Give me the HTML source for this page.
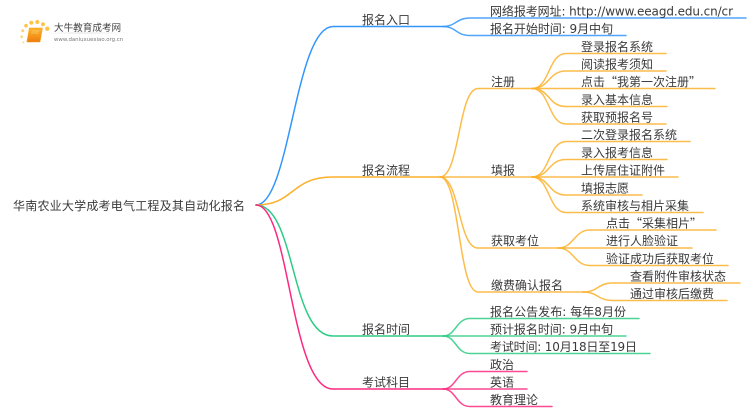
<!DOCTYPE html>
<html><head><meta charset="utf-8">
<style>
html,body{margin:0;padding:0;background:#fff;width:750px;height:410px;overflow:hidden}
svg{display:block;filter:blur(.3px)}
text{font-family:"DejaVu Sans","Noto Sans CJK SC",sans-serif;font-size:12px;fill:#3a3a3a}
tspan{font-family:"Noto Sans CJK SC",sans-serif}
path{fill:none;stroke-linecap:round}
.b{stroke:#3296fa}.o{stroke:#fbb02a}.g{stroke:#2ecb85}.p{stroke:#fb2a80}
.m{stroke-width:1.5}
.l{stroke-width:1.5;stroke-opacity:.85}
</style></head><body>
<svg width="750" height="410" viewBox="0 0 750 410" xmlns="http://www.w3.org/2000/svg">
<defs>
<linearGradient id="bk" x1="0" y1="0" x2="0" y2="1"><stop offset="0" stop-color="#fcb62a"/><stop offset="1" stop-color="#ee7d0e"/></linearGradient>
<linearGradient id="gl" x1="0" y1="0" x2="1" y2="0"><stop offset="0" stop-color="#ddd" stop-opacity="0"/><stop offset=".4" stop-color="#ddd"/><stop offset="1" stop-color="#ddd" stop-opacity="0"/></linearGradient>
</defs>
<!-- logo -->
<g fill="#fcc54a">
<circle cx="23.300" cy="42.300" r="1" opacity=".6"/><circle cx="21.700" cy="36.700" r="1.300" opacity=".7"/><circle cx="22.700" cy="30.700" r="1.500" opacity=".8"/><circle cx="26" cy="25.700" r="1.800"/><circle cx="31.300" cy="22.700" r="2"/><circle cx="37.300" cy="22" r="2"/><circle cx="43" cy="24.300" r="2"/><circle cx="47.300" cy="28.700" r="2.200"/>
</g>
<path d="M29.500 28H42.500L40 42H27Z" style="fill:url(#bk);stroke:#f09a1a;stroke-width:.5"/>
<path d="M32 31H39M31.500 33H38" style="stroke:#fde0a0;stroke-width:.5"/>
<rect x="46" y="32.500" width="86" height="1" style="fill:url(#gl)"/>
<text x="54" y="31" style="font-size:9.600px;fill:#444">大牛教育成考网</text>
<text x="54" y="41" style="font-size:5.400px;fill:#777">www.daniuxuexiao.org.cn</text>

<!-- main branches -->
<path class="b m" d="M256 205C290 205 295 26.500 333 26.500H443"/>
<path class="o m" d="M256 205C295 205 290 177 333 177H440"/>
<path class="g m" d="M256 205C296 205 290 336 333 336H443"/>
<path class="p m" d="M256 205C290 205 290 389 333 389H443"/>

<!-- blue children -->
<path class="b l" d="M443 26.500C456 26.500 456 18 470 18H746"/>
<path class="b l" d="M443 26.500C456 26.500 456 35.500 470 35.500H626"/>

<!-- orange level 2 -->
<path class="o l" d="M440 177C460 177 458 88.500 478 88.500H532"/>
<path class="o l" d="M440 177H532"/>
<path class="o l" d="M440 177C460 177 458 248 478 248H558"/>
<path class="o l" d="M440 177C460 177 458 292 478 292H583"/>

<!-- 注册 -->
<path class="o l" d="M532 88.500C550 88.500 548 53.500 566 53.500H666"/>
<path class="o l" d="M532 88.500C550 88.500 548 71 566 71H666"/>
<path class="o l" d="M532 88.500H715"/>
<path class="o l" d="M532 88.500C550 88.500 548 106.500 566 106.500H667"/>
<path class="o l" d="M532 88.500C550 88.500 548 124 566 124H666"/>
<!-- 填报 -->
<path class="o l" d="M532 177C550 177 548 141.500 566 141.500H690"/>
<path class="o l" d="M532 177C550 177 548 159.500 566 159.500H667"/>
<path class="o l" d="M532 177H678"/>
<path class="o l" d="M532 177C550 177 548 195 566 195H642"/>
<path class="o l" d="M532 177C550 177 548 212.500 566 212.500H703"/>
<!-- 获取考位 -->
<path class="o l" d="M558 248C574 248 574 230 590 230H716"/>
<path class="o l" d="M558 248H692"/>
<path class="o l" d="M558 248C574 248 574 265.500 590 265.500H728"/>
<!-- 缴费 -->
<path class="o l" d="M583 292C598 292 598 283 612 283H740"/>
<path class="o l" d="M583 292C598 292 598 300.500 612 300.500H727"/>

<!-- green children -->
<path class="g l" d="M443 336C456 336 456 318.500 470 318.500H639"/>
<path class="g l" d="M443 336H626"/>
<path class="g l" d="M443 336C456 336 456 353.500 470 353.500H650"/>
<!-- pink children -->
<path class="p l" d="M443 389C456 389 456 371.500 470 371.500H527"/>
<path class="p l" d="M443 389H527"/>
<path class="p l" d="M443 389C456 389 456 406.500 470 406.500H552"/>

<!-- labels -->
<text x="13" y="210" textLength="232">华南农业大学成考电气工程及其自动化报名</text>
<text x="362" y="24">报名入口</text>
<text x="362" y="174.500">报名流程</text>
<text x="362" y="333.500">报名时间</text>
<text x="362" y="386.500">考试科目</text>

<text x="490" y="15.500" textLength="243">网络报考网址: http://www.eeagd.edu.cn/cr</text>
<text x="490" y="33" textLength="123">报名开始时间: 9月中旬</text>

<text x="491" y="86">注册</text>
<text x="491" y="174.500">填报</text>
<text x="491" y="245">获取考位</text>
<text x="491" y="289.500">缴费确认报名</text>

<text x="581" y="51">登录报名系统</text>
<text x="581" y="68.500">阅读报考须知</text>
<text x="581" y="86"><tspan>点击“我第一次注册”</tspan></text>
<text x="581" y="104">录入基本信息</text>
<text x="581" y="121.500">获取预报名号</text>

<text x="581" y="139">二次登录报名系统</text>
<text x="581" y="157">录入报考信息</text>
<text x="581" y="174.500">上传居住证附件</text>
<text x="581" y="192.500">填报志愿</text>
<text x="581" y="210">系统审核与相片采集</text>

<text x="606" y="227.500"><tspan>点击“采集相片”</tspan></text>
<text x="606" y="245">进行人脸验证</text>
<text x="606" y="263">验证成功后获取考位</text>

<text x="630" y="280.500">查看附件审核状态</text>
<text x="630" y="298">通过审核后缴费</text>

<text x="490" y="316" textLength="136">报名公告发布: 每年8月份</text>
<text x="490" y="333.500" textLength="123">预计报名时间: 9月中旬</text>
<text x="490" y="351" textLength="147">考试时间: 10月18日至19日</text>

<text x="490" y="369">政治</text>
<text x="490" y="386.500">英语</text>
<text x="490" y="404">教育理论</text>
</svg>
</body></html>
